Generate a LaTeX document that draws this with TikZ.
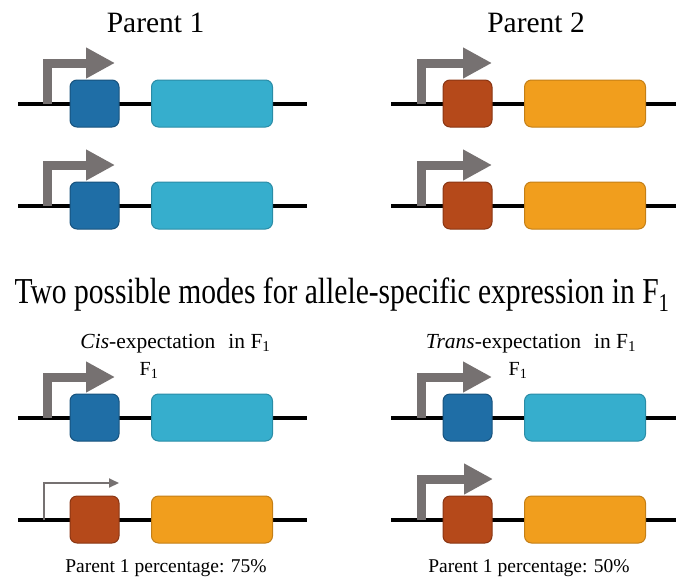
\documentclass[tikz,border=0pt]{standalone}
\usepackage{fontspec}
\setmainfont{Liberation Serif}
\usetikzlibrary{arrows.meta}
\definecolor{dblue}{HTML}{1F6EA6}
\definecolor{dblueB}{HTML}{17527D}
\definecolor{lblue}{HTML}{36AECD}
\definecolor{lblueB}{HTML}{2A8CA6}
\definecolor{rust}{HTML}{B5491A}
\definecolor{rustB}{HTML}{8A3613}
\definecolor{orng}{HTML}{F19E1D}
\definecolor{orngB}{HTML}{C47F16}
\definecolor{arrgray}{HTML}{767171}
\tikzset{
  dna/.style={line width=4pt, black},
  smallbox/.style={draw, line width=1pt, rounded corners=7pt, minimum width=49pt, minimum height=47pt, inner sep=0pt},
  bigbox/.style={draw, line width=1pt, rounded corners=7pt, minimum width=121pt, minimum height=47pt, inner sep=0pt},
  bigprom/.style={line width=9pt, arrgray, line join=miter, -{Triangle[width=29pt,length=29pt]}},
  weakprom/.style={line width=2pt, arrgray, line join=miter, -{Triangle[width=9pt,length=10pt]}},
  lbl/.style={anchor=base, inner sep=0pt},
  parent/.style={lbl, font=\fontsize{29.5}{32}\selectfont},
  title/.style={lbl, font=\fontsize{36.5}{40}\selectfont, xscale=0.81},
  subtitle/.style={lbl, font=\fontsize{21.5}{24}\selectfont},
  fone/.style={lbl, font=\fontsize{20}{22}\selectfont},
  note/.style={lbl, font=\fontsize{19.5}{22}\selectfont},
}
\newcommand\Fone{F\textsubscript{1}}
\begin{document}
\begin{tikzpicture}[x=1pt,y=-1pt]
\useasboundingbox (0,0) rectangle (676,578);
% ---------- left column ----------
% row 1 (Parent 1)
\coordinate (l1a) at (18,104); \coordinate (l1b) at (307,104);
\draw[dna] (l1a) -- (l1b);
\coordinate (p1s) at (47.5,104); \coordinate (p1t) at (115,63);
\draw[bigprom] (p1s) |- (p1t);
\node[smallbox, fill=dblue, draw=dblueB] (b1) at (94.5,103.5) {};
\node[bigbox, fill=lblue, draw=lblueB] (g1) at (212,103.5) {};
% row 2 (Parent 1)
\coordinate (l2a) at (18,206); \coordinate (l2b) at (307,206);
\draw[dna] (l2a) -- (l2b);
\coordinate (p2s) at (47.5,206); \coordinate (p2t) at (115,165);
\draw[bigprom] (p2s) |- (p2t);
\node[smallbox, fill=dblue, draw=dblueB] (b2) at (94.5,205.5) {};
\node[bigbox, fill=lblue, draw=lblueB] (g2) at (212,205.5) {};
% row 3 (cis, parent 1 allele)
\coordinate (l3a) at (18,418); \coordinate (l3b) at (307,418);
\draw[dna] (l3a) -- (l3b);
\coordinate (p3s) at (47.5,418); \coordinate (p3t) at (115,377);
\draw[bigprom] (p3s) |- (p3t);
\node[smallbox, fill=dblue, draw=dblueB] (b3) at (94.5,417.5) {};
\node[bigbox, fill=lblue, draw=lblueB] (g3) at (212,417.5) {};
% row 4 (cis, parent 2 allele)
\coordinate (l4a) at (18,520); \coordinate (l4b) at (307,520);
\draw[dna] (l4a) -- (l4b);
\coordinate (p4s) at (43.5,520); \coordinate (p4t) at (119,483);
\draw[weakprom] (p4s) |- (p4t);
\node[smallbox, fill=rust, draw=rustB] (b4) at (94.5,519.5) {};
\node[bigbox, fill=orng, draw=orngB] (g4) at (212,519.5) {};
% ---------- right column ----------
% row 1 (Parent 2)
\coordinate (r1a) at (391,104); \coordinate (r1b) at (676,104);
\draw[dna] (r1a) -- (r1b);
\coordinate (q1s) at (421,104); \coordinate (q1t) at (492,63);
\draw[bigprom] (q1s) |- (q1t);
\node[smallbox, fill=rust, draw=rustB] (c1) at (467.5,103.5) {};
\node[bigbox, fill=orng, draw=orngB] (h1) at (585,103.5) {};
% row 2 (Parent 2)
\coordinate (r2a) at (391,206); \coordinate (r2b) at (676,206);
\draw[dna] (r2a) -- (r2b);
\coordinate (q2s) at (421,206); \coordinate (q2t) at (492,165);
\draw[bigprom] (q2s) |- (q2t);
\node[smallbox, fill=rust, draw=rustB] (c2) at (467.5,205.5) {};
\node[bigbox, fill=orng, draw=orngB] (h2) at (585,205.5) {};
% row 3 (trans, parent 1 allele)
\coordinate (r3a) at (391,418); \coordinate (r3b) at (676,418);
\draw[dna] (r3a) -- (r3b);
\coordinate (q3s) at (421,418); \coordinate (q3t) at (492,377);
\draw[bigprom] (q3s) |- (q3t);
\node[smallbox, fill=dblue, draw=dblueB] (c3) at (467.5,417.5) {};
\node[bigbox, fill=lblue, draw=lblueB] (h3) at (585,417.5) {};
% row 4 (trans, parent 2 allele)
\coordinate (r4a) at (391,520); \coordinate (r4b) at (676,520);
\draw[dna] (r4a) -- (r4b);
\coordinate (q4s) at (421,520); \coordinate (q4t) at (493,479);
\draw[bigprom] (q4s) |- (q4t);
\node[smallbox, fill=rust, draw=rustB] (c4) at (467.5,519.5) {};
\node[bigbox, fill=orng, draw=orngB] (h4) at (585,519.5) {};
% ---------- texts ----------
\node[parent] (t1) at (155.5,33) {Parent 1};
\node[parent] (t2) at (536,33) {Parent 2};
\node[title] (t3) at (342,303) {Two possible modes for allele-specific expression in \Fone};
\node[subtitle] (t4) at (175.5,348) {\textit{Cis}-expectation\hspace{13pt}in \Fone};
\node[fone] (t5) at (149,375) {\Fone};
\node[subtitle] (t6) at (531,348) {\textit{Trans}-expectation\hspace{13pt}in \Fone};
\node[fone] (t7) at (518,375) {\Fone};
\node[note] (t8) at (166,572) {Parent 1 percentage: 75\%};
\node[note] (t9) at (529,572) {Parent 1 percentage: 50\%};
\end{tikzpicture}
\end{document}
